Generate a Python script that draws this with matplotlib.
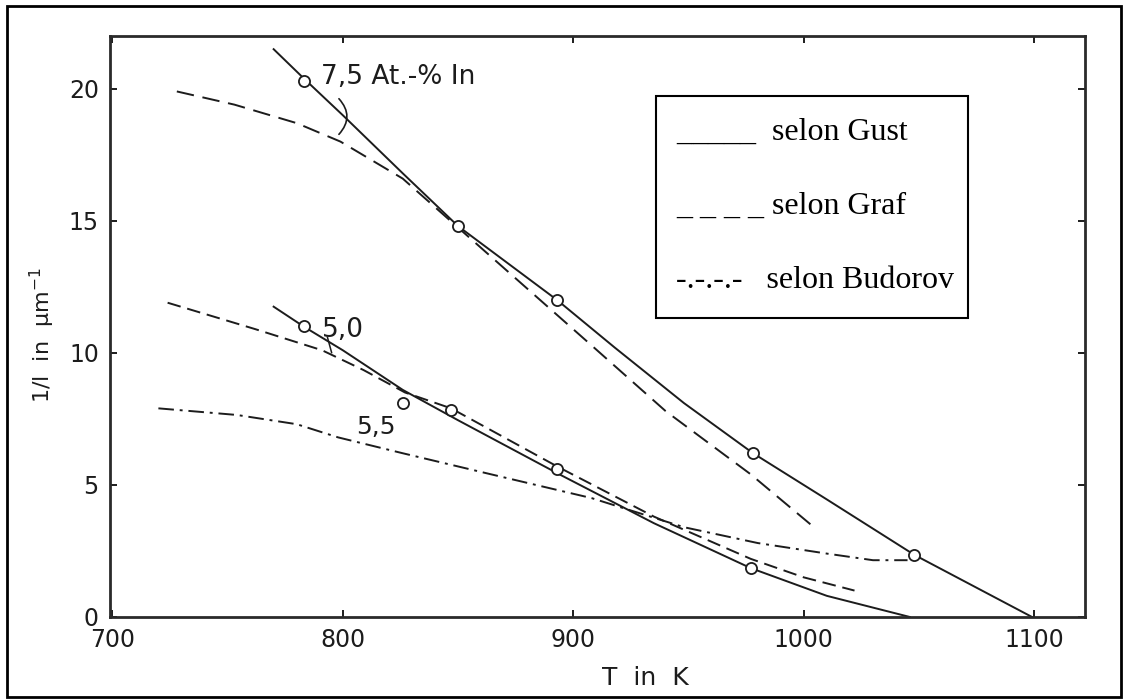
import matplotlib
matplotlib.use("Agg")
import matplotlib.pyplot as plt
from matplotlib import font_manager
from matplotlib.patches import Rectangle

# ---- data ----
gust75_T = [770, 783, 800, 826, 850, 893, 918, 948, 978, 1010, 1048, 1099]
gust75_y = [21.5, 20.4, 19.0, 16.8, 14.8, 12.0, 10.2, 8.1, 6.2, 4.45, 2.35, 0.0]

graf75_T = [728, 753, 780, 799, 826, 848, 909, 940, 977, 1003]
graf75_y = [19.9, 19.4, 18.7, 18.0, 16.6, 14.9, 10.2, 7.8, 5.4, 3.5]

gust50_T = [770, 783, 800, 826, 850, 894, 935, 977, 1010, 1046]
gust50_y = [11.75, 11.0, 10.1, 8.6, 7.45, 5.4, 3.55, 1.85, 0.8, 0.0]

graf50_T = [724, 762, 791, 809, 827, 847, 870, 893, 935, 977, 1000, 1022]
graf50_y = [11.9, 10.9, 10.1, 9.35, 8.5, 7.9, 6.8, 5.7, 3.8, 2.2, 1.5, 1.0]

budorov_T = [720, 754, 780, 798, 826, 862, 908, 948, 980, 1010, 1030, 1045]
budorov_y = [7.9, 7.65, 7.3, 6.8, 6.2, 5.45, 4.5, 3.4, 2.8, 2.4, 2.15, 2.15]

circ75_T = [783, 850, 893, 978, 1048]
circ75_y = [20.3, 14.8, 12.0, 6.2, 2.35]
circ50_T = [783, 826, 847, 893, 977]
circ50_y = [11.0, 8.1, 7.85, 5.6, 1.85]

x_ticks = [700, 800, 900, 1000, 1100]
y_ticks = [0, 5, 10, 15, 20]

legend_lines = ["_____  selon Gust", "_ _ _ _ selon Graf", "-.-.-.-   selon Budorov"]

# ---- fonts ----
names = {f.name for f in font_manager.fontManager.ttflist}
narrow = "Liberation Sans Narrow" if "Liberation Sans Narrow" in names else "DejaVu Sans"
serif = "Liberation Serif"

ink = "#1c1c1c"

fig = plt.figure(figsize=(11.28, 7.0), dpi=100)
ax = fig.add_axes([0.0975, 0.1186, 0.8644, 0.830])

lw = 1.4
ax.plot(gust75_T, gust75_y, color=ink, lw=lw)
ax.plot(gust50_T, gust50_y, color=ink, lw=lw)
ax.plot(graf75_T, graf75_y, color=ink, lw=lw, linestyle=(0, (9, 4.5)))
ax.plot(graf50_T, graf50_y, color=ink, lw=lw, linestyle=(0, (7, 3.5)))
ax.plot(budorov_T, budorov_y, color=ink, lw=lw, linestyle=(0, (8, 3, 1.5, 3)))

ax.plot(circ75_T, circ75_y, linestyle="none", marker="o", ms=8, mfc="white",
        mec=ink, mew=1.3, zorder=5)
ax.plot(circ50_T, circ50_y, linestyle="none", marker="o", ms=8, mfc="white",
        mec=ink, mew=1.3, zorder=5)

ax.set_xlim(699, 1122)
ax.set_ylim(0, 22)
ax.set_xticks(x_ticks)
ax.set_yticks(y_ticks)
ax.tick_params(direction="in", length=5, width=1.4, top=True, right=True,
               labelsize=17, colors=ink, pad=8)
for lab in ax.get_xticklabels() + ax.get_yticklabels():
    lab.set_family([narrow, "DejaVu Sans"])
for s in ax.spines.values():
    s.set_linewidth(2.0)
    s.set_color("#2a2a2a")

ax.set_xlabel("T  in  K", fontsize=18, family=[narrow, "DejaVu Sans"], color=ink)
ax.xaxis.set_label_coords(0.549, -0.085)
ax.set_ylabel("1/l  in  µm$^{-1}$", fontsize=16, family=[narrow, "DejaVu Sans"], color=ink)
ax.yaxis.set_label_coords(-0.054, 0.485)

# curve annotations
ax.text(790.5, 20.45, "7,5 At.-% In", fontsize=19, family=[narrow, "DejaVu Sans"],
        ha="left", va="center", color=ink)
ax.text(791, 10.85, "5,0", fontsize=19, family=[narrow, "DejaVu Sans"],
        ha="left", va="center", color=ink)
ax.text(806, 7.2, "5,5", fontsize=18, family=[narrow, "DejaVu Sans"],
        ha="left", va="center", color=ink)
ax.annotate("", xy=(797.5, 18.2), xytext=(797.5, 19.7),
            arrowprops=dict(arrowstyle="-", color=ink, lw=1.2,
                            connectionstyle="arc3,rad=-0.5"))
ax.annotate("", xy=(795.5, 9.9), xytext=(793, 10.7),
            arrowprops=dict(arrowstyle="-", color=ink, lw=1.1))

# legend box drawn as in the reference (text-based keys)
fig.patches.append(Rectangle((656 / 1128, 1 - 318 / 700), (968 - 656) / 1128,
                             (318 - 96) / 700, transform=fig.transFigure,
                             fill=False, edgecolor="black", lw=1.5))
for i, line in enumerate(legend_lines):
    fig.text(676 / 1128, 1 - (132 + 74 * i) / 700, line, fontsize=23,
             family=[serif, "DejaVu Serif"], ha="left", va="center", color="black")

# outer frame
fig.patches.append(Rectangle((7 / 1128, 3 / 700), 1114 / 1128, 691 / 700,
                             transform=fig.transFigure, fill=False,
                             edgecolor="black", lw=2.0))

fig.savefig("out.png", dpi=100)
